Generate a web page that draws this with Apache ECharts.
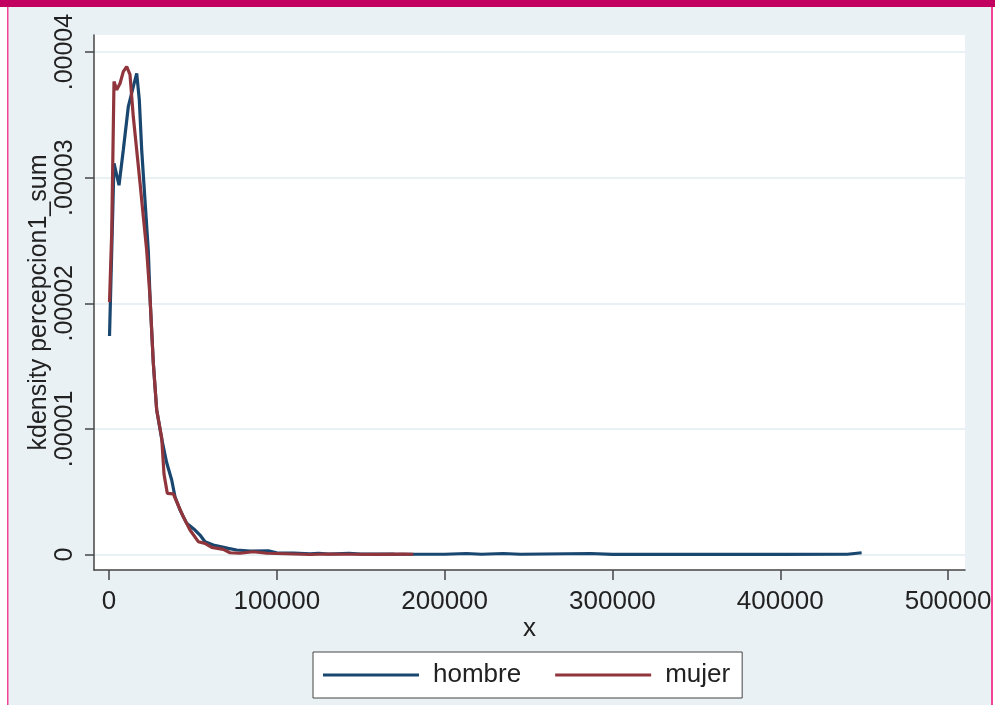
<!DOCTYPE html>
<html>
<head>
<meta charset="utf-8">
<script src="https://cdn.jsdelivr.net/npm/echarts@6/dist/echarts.min.js"></script>
<style>
html,body{margin:0;padding:0;background:#fff;}
#chart{width:995px;height:705px;}
</style>
</head>
<body>
<div id="chart"></div>
<script>
// hombre (x, density in units of 1e-5)
const hombreX = [300, 2980, 5960, 8520, 11500, 14480, 16510, 18060, 19490, 21450, 23420, 24430, 26400, 28420, 31400, 34380, 37360, 39330, 42310, 46300, 51250, 54230, 57210, 62150, 71090, 76100, 84020, 94930, 99930, 110000, 119800, 125000, 131000, 143000, 150000, 170000, 200000, 213000, 222000, 235000, 245000, 287000, 300000, 350000, 400000, 440000, 448500];
const hombreY = [1.74, 3.115, 2.94, 3.22, 3.565, 3.725, 3.83, 3.62, 3.22, 2.82, 2.42, 2.05, 1.525, 1.15, 0.92, 0.73, 0.593, 0.46, 0.354, 0.248, 0.195, 0.155, 0.102, 0.076, 0.049, 0.036, 0.028, 0.030, 0.014, 0.012, 0.006, 0.010, 0.004, 0.010, 0.004, 0.003, 0.002, 0.008, 0.002, 0.008, 0.002, 0.008, 0.001, 0.001, 0.001, 0.002, 0.014];
// mujer
const mujerX = [300, 1610, 2980, 4590, 6560, 8520, 10550, 12510, 14480, 16510, 18470, 20440, 22470, 24430, 26400, 28420, 31400, 32770, 34740, 38320, 40340, 44270, 48270, 53210, 57210, 61200, 68110, 72100, 78060, 86000, 93970, 105000, 119800, 130000, 145000, 160000, 175000, 181300];
const mujerY = [2.01, 2.56, 3.765, 3.70, 3.75, 3.845, 3.885, 3.82, 3.485, 3.22, 2.96, 2.69, 2.42, 2.05, 1.525, 1.15, 0.93, 0.64, 0.487, 0.482, 0.42, 0.30, 0.195, 0.102, 0.089, 0.057, 0.041, 0.014, 0.010, 0.022, 0.010, 0.006, 0.0, 0.004, 0.002, 0.001, 0.003, 0.002];
const xTicks = [0, 100000, 200000, 300000, 400000, 500000];
const yTicks = [0, 0.00001, 0.00002, 0.00003, 0.00004];
const seriesNames = ['hombre', 'mujer'];
const yTitle = 'kdensity percepcion1_sum';
const xTitle = 'x';

const pairs = (xs, ys) => xs.map((x, i) => [x, ys[i] * 1e-5]);
const fmtY = v => v === 0 ? '0' : '.' + v.toFixed(5).split('.')[1];
const axisColor = '#444';
const font = 'Liberation Sans, Arial, sans-serif';

const chart = echarts.init(document.getElementById('chart'), null, {renderer: 'canvas'});
chart.setOption({
  backgroundColor: '#eaf1f4',
  animation: false,
  textStyle: {fontFamily: font},
  graphic: [
    {type: 'rect', shape: {x: 0, y: 0, width: 7, height: 705}, style: {fill: '#ffffff'}, silent: true},
    {type: 'rect', shape: {x: 993, y: 0, width: 2, height: 705}, style: {fill: '#ffffff'}, silent: true},
    {type: 'rect', shape: {x: 7, y: 0, width: 1.5, height: 705}, style: {fill: '#f0449a'}, silent: true},
    {type: 'rect', shape: {x: 991, y: 0, width: 2, height: 705}, style: {fill: '#f0449a'}, silent: true},
    {type: 'rect', shape: {x: 0, y: 0, width: 995, height: 7}, style: {fill: '#c2005f'}, silent: true}
  ],
  grid: {left: 94, right: 30, top: 35, bottom: 135, show: true, backgroundColor: '#ffffff', borderWidth: 0},
  legend: {
    data: seriesNames,
    left: 313,
    top: 652,
    backgroundColor: '#ffffff',
    borderColor: axisColor,
    borderWidth: 1,
    borderRadius: 0,
    padding: [10, 12, 10, 10],
    itemWidth: 96,
    itemHeight: 3,
    itemGap: 34,
    icon: 'rect',
    textStyle: {fontSize: 26, color: '#222', fontFamily: font, padding: [0, 0, 0, 9]}
  },
  xAxis: {
    type: 'value',
    min: -8940,
    max: 510090,
    name: xTitle,
    nameLocation: 'middle',
    nameGap: 46,
    nameMoveOverlap: false,
    nameTextStyle: {fontSize: 26, color: '#222', fontFamily: font},
    axisLine: {show: true, onZero: false, lineStyle: {color: axisColor, width: 1.5}},
    axisTick: {show: true, length: 10, lineStyle: {color: axisColor, width: 1.5}, customValues: xTicks},
    axisLabel: {fontSize: 26, color: '#222', margin: 19, fontFamily: font, customValues: xTicks, formatter: v => String(v)},
    splitLine: {show: false}
  },
  yAxis: {
    type: 'value',
    min: -0.001234e-3,
    max: 0.04136e-3,
    name: yTitle,
    nameLocation: 'middle',
    nameGap: 42,
    nameMoveOverlap: false,
    nameRotate: 90,
    nameTextStyle: {fontSize: 25, color: '#222', fontFamily: font},
    axisLine: {show: true, onZero: false, lineStyle: {color: axisColor, width: 1.5}},
    axisTick: {show: true, length: 9, lineStyle: {color: axisColor, width: 1.5}, customValues: yTicks},
    axisLabel: {fontSize: 25, color: '#222', margin: 16, rotate: 90, fontFamily: font, customValues: yTicks, formatter: fmtY},
    splitLine: {show: true, lineStyle: {color: '#e2ecf0', width: 1.5}, customValues: yTicks}
  },
  series: [
    {name: seriesNames[0], type: 'line', data: pairs(hombreX, hombreY), showSymbol: false, symbol: 'none',
     lineStyle: {color: '#1a476f', width: 3.2}, itemStyle: {color: '#1a476f'}},
    {name: seriesNames[1], type: 'line', data: pairs(mujerX, mujerY), showSymbol: false, symbol: 'none',
     lineStyle: {color: '#90353b', width: 3.2}, itemStyle: {color: '#90353b'}}
  ]
});
</script>
</body>
</html>
